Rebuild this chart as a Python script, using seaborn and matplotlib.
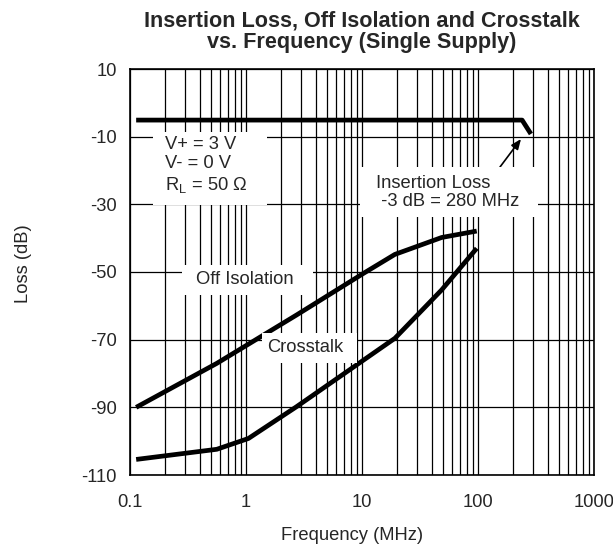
import matplotlib
matplotlib.use("Agg")
import matplotlib.pyplot as plt
import seaborn as sns
import pandas as pd
import numpy as np
from matplotlib.ticker import FixedLocator, LogLocator, NullFormatter, FixedFormatter
from matplotlib.patches import Rectangle

# ---- data ----
ins_freq = [0.113, 240, 286]
ins_loss = [-5.1, -5.1, -9.2]

iso_freq = [0.113, 0.56, 2.73, 10.3, 19.2, 48.6, 97.5]
iso_loss = [-90.0, -77.0, -62.7, -50.4, -44.8, -39.8, -37.9]

xt_freq = [0.113, 0.56, 1.05, 2.73, 19.2, 48.6, 97.5]
xt_loss = [-105.4, -102.4, -99.2, -89.8, -69.6, -55.3, -43.0]

x_ticks = [0.1, 1, 10, 100, 1000]
x_ticklabels = ["0.1", "1", "10", "100", "1000"]
y_ticks = [10, -10, -30, -50, -70, -90, -110]
y_ticklabels = ["10", "-10", "-30", "-50", "-70", "-90", "-110"]

title = "Insertion Loss, Off Isolation and Crosstalk\nvs. Frequency (Single Supply)"
cond_text = "V+ = 3 V\nV- = 0 V\nR$_\\mathregular{L}$ = 50 \u03a9"
ins_text = "Insertion Loss\n -3 dB = 280 MHz"

df = pd.concat([
    pd.DataFrame({"Frequency": ins_freq, "Loss": ins_loss, "curve": "Insertion Loss"}),
    pd.DataFrame({"Frequency": iso_freq, "Loss": iso_loss, "curve": "Off Isolation"}),
    pd.DataFrame({"Frequency": xt_freq, "Loss": xt_loss, "curve": "Crosstalk"}),
])

sns.set_style("white")
plt.rcParams["font.family"] = ["Liberation Sans", "DejaVu Sans"]
plt.rcParams["mathtext.fontset"] = "custom"
plt.rcParams["mathtext.rm"] = "Liberation Sans"

FS = 13.2
W, H = 613, 547
fig = plt.figure(figsize=(W / 100, H / 100), dpi=100)
left, right, top, bottom = 130, 594, 69, 475
ax = fig.add_axes([left / W, 1 - bottom / H, (right - left) / W, (bottom - top) / H])

sns.lineplot(data=df, x="Frequency", y="Loss", units="curve", estimator=None,
             color="black", linewidth=3.4, ax=ax, sort=False, legend=False,
             solid_capstyle="butt", zorder=5)

ax.set_xscale("log")
ax.set_xlim(0.1, 1000)
ax.set_ylim(-110, 10)

ax.xaxis.set_major_locator(FixedLocator(x_ticks))
ax.xaxis.set_major_formatter(FixedFormatter(x_ticklabels))
ax.xaxis.set_minor_locator(LogLocator(base=10, subs=np.arange(2, 10)))
ax.xaxis.set_minor_formatter(NullFormatter())
ax.yaxis.set_major_locator(FixedLocator(y_ticks))
ax.yaxis.set_major_formatter(FixedFormatter(y_ticklabels))

ax.grid(True, which="both", axis="x", color="black", linewidth=0.9)
ax.grid(True, which="major", axis="y", color="black", linewidth=0.9)
ax.tick_params(axis="both", which="both", length=0, labelsize=FS)
ax.tick_params(axis="x", pad=14)
ax.tick_params(axis="y", pad=9.5)
for s in ax.spines.values():
    s.set_color("black")
    s.set_linewidth(1.2)

ax.set_xlabel("Frequency (MHz)", fontsize=FS)
ax.set_ylabel("Loss (dB)", fontsize=FS)
ax.xaxis.set_label_coords((352 - left) / (right - left), (bottom - 535) / (bottom - top))
ax.xaxis.label.set_va("center")
ax.yaxis.set_label_coords((23 - left) / (right - left), (bottom - 264) / (bottom - top))
ax.yaxis.label.set_va("center")

fig.text(362 / W, 1 - 32 / H, title, ha="center", va="center",
         fontsize=15.6, fontweight="bold", linespacing=1.0)

def px(x, y):
    return (x / W, 1 - y / H)

# white patches to hide grid behind the annotation texts
for (x0, y0, x1, y1) in [(153, 132, 267, 205), (360, 167, 538, 217),
                         (182, 265, 313, 295), (262, 333, 357, 363)]:
    fig.patches.append(Rectangle(px(x0, y1), (x1 - x0) / W, (y1 - y0) / H,
                                 transform=fig.transFigure, facecolor="white",
                                 edgecolor="none", zorder=3))

fig.text(165 / W, 1 - 165.5 / H, cond_text, ha="left", va="center",
         fontsize=FS, linespacing=1.15, zorder=6)
fig.text(376 / W, 1 - 192.5 / H, ins_text, ha="left", va="center",
         fontsize=FS, linespacing=1.15, zorder=6)
fig.text(245 / W, 1 - 279 / H, "Off Isolation", ha="center", va="center",
         fontsize=FS, zorder=6)
fig.text(305 / W, 1 - 348 / H, "Crosstalk", ha="center", va="center",
         fontsize=FS, zorder=6)

ax.annotate("", xy=px(521, 139), xytext=px(500, 167),
            xycoords="figure fraction", textcoords="figure fraction",
            arrowprops=dict(arrowstyle="-|>,head_length=0.6,head_width=0.25",
                            color="black", lw=1.2, shrinkA=0, shrinkB=0),
            zorder=6)

fig.savefig("out.png", dpi=100)
